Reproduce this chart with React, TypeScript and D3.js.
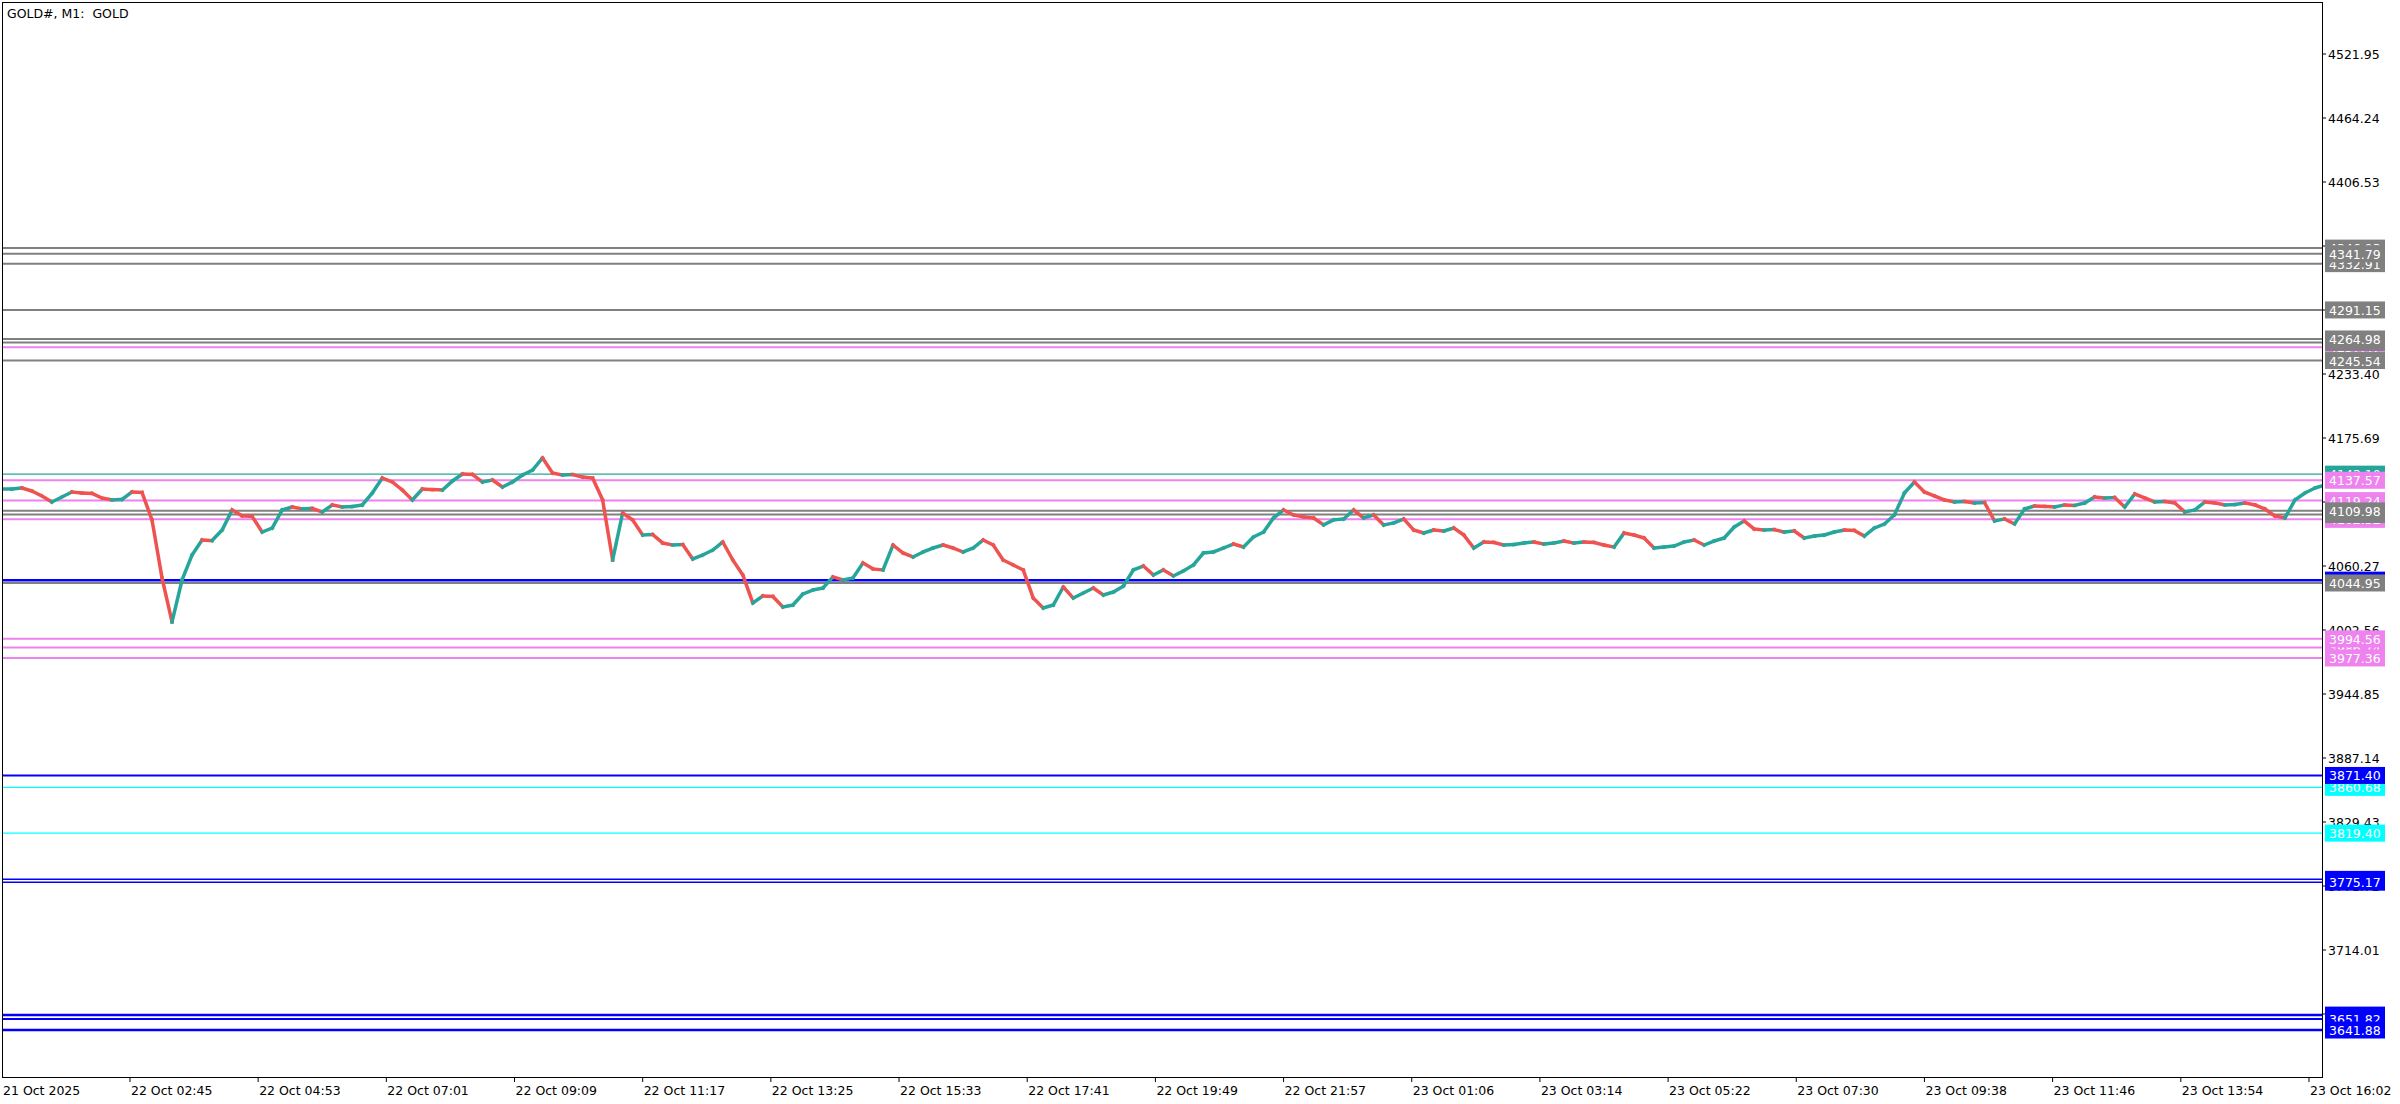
import * as d3 from "d3";

// chart size / frame
const W = 2400;
const H = 1104;
const plotLeft = 2;
const plotTop = 2;
const plotRight = 2322;
const plotBottom = 1077;

// M1 closes, one every 10 bars
const closes = [
  4129.7, 4130.6, 4127.9, 4123.4, 4118.0, 4122.5, 4127.0, 4126.1, 4125.8, 4121.6,
  4119.8, 4120.3, 4127.0, 4126.6, 4101.8, 4049.5, 4009.8, 4047.7, 4070.2, 4083.7,
  4083.2, 4092.7, 4110.8, 4105.4, 4105.0, 4090.9, 4094.5, 4110.8, 4113.5, 4111.7,
  4112.2, 4109.0, 4115.3, 4113.5, 4113.9, 4115.3, 4126.1, 4139.6, 4136.0, 4128.8,
  4119.8, 4129.7, 4129.2, 4128.8, 4136.9, 4143.2, 4142.8, 4136.0, 4137.8, 4131.5,
  4136.0, 4142.3, 4146.8, 4157.7, 4144.1, 4142.3, 4142.7, 4140.5, 4139.6, 4119.8,
  4065.7, 4108.1, 4101.8, 4088.2, 4088.6, 4081.0, 4079.2, 4079.6, 4066.6, 4070.2,
  4074.7, 4081.9, 4065.7, 4052.2, 4026.9, 4033.2, 4032.8, 4023.3, 4025.1, 4035.0,
  4038.6, 4040.4, 4050.4, 4047.7, 4049.5, 4063.0, 4057.6, 4056.7, 4079.2, 4072.0,
  4068.4, 4072.9, 4076.5, 4079.2, 4076.5, 4072.9, 4076.5, 4083.7, 4079.2, 4065.7,
  4061.2, 4056.7, 4031.4, 4022.4, 4025.1, 4041.3, 4031.4, 4035.9, 4040.4, 4034.1,
  4036.8, 4042.2, 4056.7, 4060.3, 4052.2, 4056.7, 4051.3, 4055.8, 4061.2, 4072.0,
  4072.9, 4076.5, 4080.1, 4077.4, 4086.4, 4090.9, 4103.6, 4110.8, 4106.3, 4104.5,
  4103.6, 4097.3, 4101.8, 4102.7, 4110.8, 4103.6, 4106.3, 4097.3, 4099.1, 4102.7,
  4092.7, 4090.0, 4092.7, 4091.8, 4094.5, 4088.2, 4076.5, 4081.9, 4081.5, 4079.2,
  4079.6, 4081.0, 4081.9, 4080.1, 4081.0, 4082.8, 4081.0, 4081.9, 4081.5, 4079.2,
  4077.4, 4090.0, 4088.2, 4085.5, 4076.5, 4077.4, 4078.3, 4081.9, 4083.7, 4079.2,
  4082.8, 4085.5, 4095.4, 4100.9, 4093.6, 4092.7, 4093.1, 4090.9, 4091.8, 4085.5,
  4087.3, 4088.2, 4090.9, 4092.7, 4092.3, 4087.3, 4094.5, 4098.2, 4106.3, 4126.1,
  4136.0, 4127.0, 4123.4, 4119.8, 4118.0, 4118.4, 4117.1, 4117.5, 4100.9, 4102.7,
  4098.2, 4111.7, 4114.4, 4114.0, 4113.5, 4115.3, 4114.9, 4117.1, 4122.5, 4121.6,
  4122.0, 4113.5, 4125.2, 4121.6, 4118.0, 4118.4, 4117.1, 4109.0, 4110.8, 4118.0,
  4117.1, 4115.3, 4115.7, 4117.1, 4115.3, 4111.7, 4105.4, 4103.6, 4119.8, 4126.1,
  4130.6, 4133.3,
];
const barsPerCandle = 10;
const totalBars = 2320;

// time axis
const timeLabels = [
  "21 Oct 2025", "22 Oct 02:45", "22 Oct 04:53", "22 Oct 07:01", "22 Oct 09:09",
  "22 Oct 11:17", "22 Oct 13:25", "22 Oct 15:33", "22 Oct 17:41", "22 Oct 19:49",
  "22 Oct 21:57", "23 Oct 01:06", "23 Oct 03:14", "23 Oct 05:22", "23 Oct 07:30",
  "23 Oct 09:38", "23 Oct 11:46", "23 Oct 13:54", "23 Oct 16:02",
];
const timeLabelBars = [
  0, 128, 256, 384, 512, 640, 768, 896, 1024, 1152, 1280, 1408, 1536, 1664, 1792,
  1920, 2048, 2176, 2304,
];

// price axis
const priceTicks = [
  4521.95, 4464.24, 4406.53, 4348.82, 4291.11, 4233.4, 4175.69, 4117.98, 4060.27,
  4002.56, 3944.85, 3887.14, 3829.43, 3771.72, 3714.01, 3656.3,
];

// horizontal levels, in drawing order (later labels cover earlier ones)
const levelPrices = [
  4346.93, 4332.91, 4341.79, 4291.15, 4257.47, 4261.84, 4245.54, 4264.98,
  4143.1, 4137.57, 4119.24, 4102.32, 4106.74, 4109.98, 4047.52, 4044.95,
  3986.74, 3994.56, 3977.36, 3860.68, 3871.4, 3819.4, 3777.7, 3775.17,
  3655.3, 3651.82, 3641.88,
];
const levelKinds = [
  "gray", "gray", "gray", "gray", "violet", "gray", "gray", "gray",
  "teal", "violet", "violet", "violet", "gray", "gray", "blue", "gray",
  "violet", "violet", "violet", "cyan", "blue", "cyan", "blue", "blue",
  "blue", "blue", "blue",
];
const levelWidths = [
  2, 2, 2, 2, 2, 2, 2, 2,
  1.3, 2, 2, 2, 2, 2, 2.5, 2,
  2, 2, 2, 1.3, 2, 1.3, 1.5, 1.5,
  2.5, 2, 2.5,
];

const kindColor: Record<string, string> = {
  gray: "#808080",
  violet: "#EE82EE",
  teal: "#26A69A",
  blue: "#0000FF",
  cyan: "#00FFFF",
};

const upColor = "#26A69A";
const downColor = "#EF5350";
const font = "'DejaVu Sans', sans-serif";

export default function App() {
  const x = d3.scaleLinear().domain([0, totalBars]).range([1.8, 2325]);
  const y = d3.scaleLinear().domain([3714.01, 4521.95]).range([950, 54]);
  const seg = d3
    .line<[number, number]>()
    .x((d) => x(d[0]))
    .y((d) => y(d[1]));

  // each 10-bar group: open = previous close, drawn as a short coloured stroke
  const candles = closes.map((c, i) => {
    const o = i === 0 ? closes[0] : closes[i - 1];
    return {
      key: i,
      d: seg([
        [i * barsPerCandle, o],
        [(i + 1) * barsPerCandle, c],
      ]),
      color: c >= o ? upColor : downColor,
    };
  });

  return (
    <svg
      width={W}
      height={H}
      style={{ position: "absolute", left: 0, top: 0, background: "#fff" }}
    >
      <defs>
        <clipPath id="plot">
          <rect
            x={plotLeft}
            y={plotTop}
            width={plotRight - plotLeft}
            height={plotBottom - plotTop}
          />
        </clipPath>
      </defs>
      <rect width={W} height={H} fill="#fff" />

      {/* levels */}
      <g clipPath="url(#plot)">
        {levelPrices.map((p, i) => (
          <line
            key={i}
            x1={plotLeft}
            x2={plotRight}
            y1={y(p)}
            y2={y(p)}
            stroke={kindColor[levelKinds[i]]}
            strokeWidth={levelWidths[i]}
          />
        ))}
      </g>

      {/* price path */}
      <g clipPath="url(#plot)" fill="none">
        {candles.map((d) => (
          <path
            key={d.key}
            d={d.d ?? ""}
            stroke={d.color}
            strokeWidth={3.5}
            strokeLinecap="square"
          />
        ))}
      </g>

      {/* frame */}
      <line x1={plotLeft + 0.5} x2={plotLeft + 0.5} y1={plotTop} y2={plotBottom} stroke="#000" />
      <line x1={plotLeft} x2={plotRight} y1={plotTop + 0.5} y2={plotTop + 0.5} stroke="#000" />
      <line x1={plotRight + 0.5} x2={plotRight + 0.5} y1={plotTop} y2={plotBottom + 0.5} stroke="#000" />
      <line x1={plotLeft} x2={plotRight + 1} y1={plotBottom + 0.5} y2={plotBottom + 0.5} stroke="#000" />

      <text x={7} y={13} fontFamily={font} fontSize={12.5} dominantBaseline="central">
        {"GOLD#, M1:\u00a0 GOLD"}
      </text>

      {/* price ticks */}
      <g fontFamily={font} fontSize={12.5}>
        {priceTicks.map((p) => (
          <g key={p}>
            <line x1={plotRight} x2={plotRight + 4} y1={y(p)} y2={y(p)} stroke="#000" />
            <text x={plotRight + 6} y={y(p)} dominantBaseline="central" fill="#000">
              {p.toFixed(2)}
            </text>
          </g>
        ))}
      </g>

      {/* level labels */}
      <g fontFamily={font} fontSize={12.5}>
        {levelPrices.map((p, i) => (
          <g key={i}>
            <rect x={plotRight + 3} y={y(p) - 8.5} width={60} height={17} fill={kindColor[levelKinds[i]]} />
            <text x={plotRight + 7} y={y(p) + 0.5} dominantBaseline="central" fill="#fff">
              {p.toFixed(2)}
            </text>
          </g>
        ))}
      </g>

      {/* time axis */}
      <g fontFamily={font} fontSize={12.5}>
        {timeLabels.map((t, i) => {
          const tx = x(timeLabelBars[i]);
          return (
            <g key={t}>
              {i > 0 && (
                <line x1={tx} x2={tx} y1={plotBottom} y2={plotBottom + 5} stroke="#000" />
              )}
              <text x={i === 0 ? 3 : tx + 1} y={plotBottom + 13} dominantBaseline="central">
                {t}
              </text>
            </g>
          );
        })}
      </g>
    </svg>
  );
}
